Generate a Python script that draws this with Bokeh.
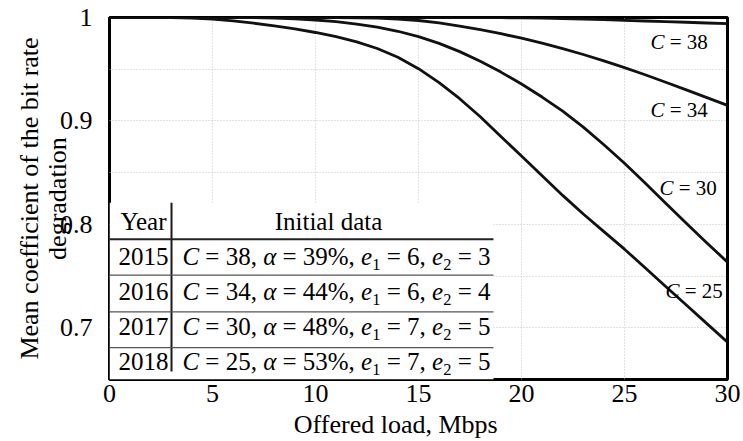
from bokeh.plotting import figure
from bokeh.models import FixedTicker, CustomJSTickFormatter, ColumnDataSource, Range1d
from bokeh.core.properties import value
from bokeh.embed import file_html
from bokeh.resources import INLINE

# ---------------- data ----------------
load = [0, 1, 2, 3, 4, 5, 6, 7, 8, 9, 10, 11, 12, 13, 14, 15,
        16, 17, 18, 19, 20, 21, 22, 23, 24, 25, 26, 27, 28, 29, 30]

coef_c38 = [1.0, 1.0, 1.0, 1.0, 1.0, 1.0, 1.0, 1.0, 1.0, 1.0, 1.0, 1.0, 1.0, 1.0, 1.0, 1.0,
            1.0, 1.0, 0.9999, 0.9998, 0.9996, 0.9993, 0.9990, 0.9985, 0.9979, 0.9972,
            0.9966, 0.9960, 0.9954, 0.9947, 0.9940]
coef_c34 = [1.0, 1.0, 1.0, 1.0, 1.0, 1.0, 1.0, 1.0, 1.0, 1.0, 1.0, 0.9999, 0.9997, 0.9993,
            0.9985, 0.9971, 0.9947, 0.9917, 0.9882, 0.9843, 0.9800, 0.9752, 0.9699, 0.9642,
            0.9580, 0.9515, 0.9446, 0.9374, 0.9300, 0.9225, 0.9150]
coef_c30 = [1.0, 1.0, 1.0, 1.0, 1.0, 1.0, 1.0, 0.9998, 0.9994, 0.9987, 0.9976, 0.9960,
            0.9937, 0.9907, 0.9867, 0.9815, 0.9750, 0.9670, 0.9577, 0.9472, 0.9357, 0.9231,
            0.9095, 0.8940, 0.8770, 0.8590, 0.8400, 0.8205, 0.8010, 0.7820, 0.7635]
coef_c25 = [1.0, 1.0, 1.0, 1.0, 0.9995, 0.9985, 0.9968, 0.9945, 0.9920, 0.9890, 0.9855,
            0.9815, 0.9765, 0.9700, 0.9615, 0.9505, 0.9370, 0.9215, 0.9040, 0.8850, 0.8660,
            0.8470, 0.8280, 0.8100, 0.7930, 0.7760, 0.7580, 0.7400, 0.7220, 0.7040, 0.6860]

curve_c = [38, 34, 30, 25]

years = ["2015", "2016", "2017", "2018"]
cap_c = [38, 34, 30, 25]
alpha_pct = [39, 44, 48, 53]
e1_vals = [6, 6, 7, 7]
e2_vals = [3, 4, 5, 5]

x_ticks = [0, 5, 10, 15, 20, 25, 30]
y_ticks = [0.7, 0.8, 0.9, 1.0]
y_grid = [0.7, 0.75, 0.8, 0.85, 0.9, 0.95]

# ---------------- layout constants ----------------
FONT = "Liberation Serif"
label_x = [26.26, 26.26, 26.70, 26.99]
label_y = [0.976, 0.9106, 0.8356, 0.7356]

TABLE_RIGHT = 18.64
TABLE_TOP = 0.821
TABLE_VLINE_X = 3.01
TABLE_VLINE_BOTTOM = 0.6577
HEADER_LINE_Y = 0.7856
ROW_LINES_Y = [0.7510, 0.7154, 0.6808]
HEADER_TEXT_Y = 0.8029
ROW_TEXT_Y = [0.7692, 0.7346, 0.7010, 0.6673]
YEAR_X = 1.65
DATA_X = 3.54
HEADER_DATA_X = 10.63

EM = {str(d): 0.5 for d in range(10)}
EM.update({",": 0.25, "%": 0.833, "=": 0.564, "C": 0.667, "α": 0.52, "e": 0.444})


def text_width(s, size):
    return sum(EM.get(ch, 0.5) for ch in s) * size


def layout_pieces(pieces, size, x, y, src):
    """pieces: list of (text, style, is_sub, gap_before)"""
    off = 0.0
    for txt, style, is_sub, gap in pieces:
        if gap:
            off += 0.25 * size
        fs = size * 0.66 if is_sub else size
        src["x"].append(x)
        src["y"].append(y)
        src["text"].append(txt)
        src["style"].append(style)
        src["size"].append(f"{fs:.1f}px")
        src["xo"].append(off)
        src["yo"].append(8 if is_sub else 0)
        off += text_width(txt, fs)


# ---------------- figure ----------------
p = figure(width=743, height=441, x_range=Range1d(0, 30), y_range=Range1d(0.65, 1.0),
           output_backend="svg", toolbar_location=None,
           min_border_left=109, min_border_right=16, min_border_top=17, min_border_bottom=60)
p.background_fill_color = "white"
p.border_fill_color = "white"
p.outline_line_color = "black"
p.outline_line_width = 3

for ax in (p.xaxis[0], p.yaxis[0]):
    ax.axis_line_color = None
    ax.major_tick_line_color = None
    ax.minor_tick_line_color = None
    ax.major_tick_out = 0
    ax.major_tick_in = 0
    ax.major_label_text_font = FONT
    ax.major_label_text_font_size = "26px"
    ax.major_label_text_color = "black"
    ax.axis_label_text_font = FONT
    ax.axis_label_text_font_size = "26px"
    ax.axis_label_text_font_style = "normal"
    ax.axis_label_text_color = "black"

p.xaxis[0].ticker = FixedTicker(ticks=x_ticks)
# trailing no-break spaces shift the centred label left, as in the original
p.xaxis[0].axis_label = "Offered load, Mbps" + "\u00a0" * 7
p.xaxis[0].major_label_standoff = 5
p.xaxis[0].axis_label_standoff = 5
p.xaxis[0].axis_label_text_line_height = 0.75

p.yaxis[0].ticker = FixedTicker(ticks=y_ticks)
p.yaxis[0].formatter = CustomJSTickFormatter(code="return String(Math.round(tick*10)/10)")
p.yaxis[0].axis_label = "Mean coefficient of the bit rate\ndegradation"
p.yaxis[0].major_label_standoff = 17
p.yaxis[0].axis_label_standoff = -15
p.yaxis[0].axis_label_text_line_height = 0.97

p.xgrid.ticker = FixedTicker(ticks=x_ticks[1:-1])
p.ygrid.ticker = FixedTicker(ticks=y_grid)
for g in (p.xgrid[0], p.ygrid[0]):
    g.grid_line_color = "#c4c4c4"
    g.grid_line_dash = "1 2"
    g.grid_line_width = 1

# curves
for series in (coef_c38, coef_c34, coef_c30, coef_c25):
    p.line(load, series, line_color="#111111", line_width=2.8, line_join="round")

# curve labels
lab = {"x": [], "y": [], "text": [], "style": [], "size": [], "xo": [], "yo": []}
for c, lx, ly in zip(curve_c, label_x, label_y):
    layout_pieces([("C", "italic", False, False), ("=", "normal", False, True),
                   (str(c), "normal", False, True)], 21, lx, ly, lab)

# table background and rules
p.quad(left=[0], right=[TABLE_RIGHT], bottom=[0.65], top=[TABLE_TOP],
       fill_color="white", line_color=None)
p.segment(x0=[TABLE_VLINE_X], y0=[TABLE_TOP], x1=[TABLE_VLINE_X], y1=[TABLE_VLINE_BOTTOM],
          line_color="#1a1a1a", line_width=2)
p.segment(x0=[0], y0=[HEADER_LINE_Y], x1=[TABLE_RIGHT], y1=[HEADER_LINE_Y],
          line_color="#222222", line_width=2)
p.segment(x0=[0] * len(ROW_LINES_Y), y0=ROW_LINES_Y,
          x1=[TABLE_RIGHT] * len(ROW_LINES_Y), y1=ROW_LINES_Y,
          line_color="#555555", line_width=1.3)

# table header
p.text(x=[YEAR_X, HEADER_DATA_X], y=[HEADER_TEXT_Y, HEADER_TEXT_Y], text=["Year", "Initial data"],
       text_font=value(FONT), text_font_size="25px", text_align="center",
       text_baseline="middle", text_color="black")
# year column
p.text(x=[YEAR_X] * len(years), y=ROW_TEXT_Y, text=years,
       text_font=value(FONT), text_font_size="25px", text_align="center",
       text_baseline="middle", text_color="black")

# data column
for c, a, e1, e2, ry in zip(cap_c, alpha_pct, e1_vals, e2_vals, ROW_TEXT_Y):
    pieces = [("C", "italic", False, False), ("=", "normal", False, True),
              (f"{c},", "normal", False, True), ("α", "italic", False, True),
              ("=", "normal", False, True), (f"{a}%,", "normal", False, True),
              ("e", "italic", False, True), ("1", "normal", True, False),
              ("=", "normal", False, True), (f"{e1},", "normal", False, True),
              ("e", "italic", False, True), ("2", "normal", True, False),
              ("=", "normal", False, True), (f"{e2}", "normal", False, True)]
    layout_pieces(pieces, 25, DATA_X, ry, lab)

src = ColumnDataSource(lab)
p.text(x="x", y="y", text="text", source=src, x_offset="xo", y_offset="yo",
       text_font=value(FONT), text_font_style="style", text_font_size="size",
       text_align="left", text_baseline="middle", text_color="black")

open("out.html", "w").write(file_html(p, INLINE))
